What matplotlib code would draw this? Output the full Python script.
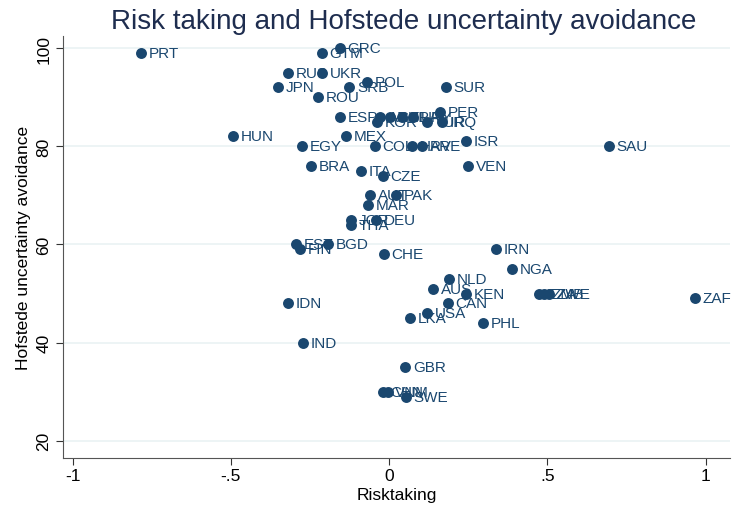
import matplotlib.pyplot as plt

plt.rcParams['font.family'] = ['Liberation Sans', 'DejaVu Sans']

countries = [
    "PRT", "GRC", "GTM", "RUS", "UKR", "JPN", "SRB", "POL", "ROU", "SUR",
    "ESP", "KOR", "ARG", "CHL", "FRA", "URY", "TUR", "PER", "IRQ",
    "MEX", "HUN", "EGY", "COL", "HRV", "ARE", "ISR", "SAU", "VEN", "BRA",
    "ITA", "CZE", "AUT", "PAK", "MAR", "JOR", "THA", "DEU", "EST", "FIN",
    "BGD", "CHE", "IRN", "NGA", "NLD", "AUS", "KEN", "CAN", "USA", "LKA",
    "PHL", "TZA", "ZMB", "ZWE", "ZAF", "IDN", "IND", "GBR", "CHN", "VNM", "SWE",
]
risktaking = [
    -0.784, -0.155, -0.212, -0.319, -0.212, -0.351, -0.126, -0.070, -0.224, 0.180,
    -0.155, -0.038, -0.028, 0.003, 0.041, 0.076, 0.120, 0.161, 0.167,
    -0.136, -0.493, -0.275, -0.045, 0.073, 0.105, 0.243, 0.695, 0.250, -0.246,
    -0.088, -0.019, -0.060, 0.022, -0.066, -0.120, -0.120, -0.040, -0.294, -0.281,
    -0.193, -0.016, 0.338, 0.389, 0.190, 0.139, 0.243, 0.186, 0.120, 0.066,
    0.297, 0.475, 0.490, 0.505, 0.967, -0.319, -0.272, 0.051, -0.020, -0.005, 0.054,
]
uai = [
    99, 100, 99, 95, 95, 92, 92, 93, 90, 92,
    86, 85, 86, 86, 86, 86, 85, 87, 85,
    82, 82, 80, 80, 80, 80, 81, 80, 76, 76,
    75, 74, 70, 70, 68, 65, 64, 65, 60, 59,
    60, 58, 59, 55, 53, 51, 50, 48, 46, 45,
    44, 50, 50, 50, 49, 48, 40, 35, 30, 30, 29,
]

navy = "#1a476f"

fig = plt.figure(figsize=(7.33, 5.10), dpi=100)
ax = fig.add_axes([0.086, 0.1, 0.91, 0.827])

ax.scatter(risktaking, uai, s=62, color=navy, zorder=3, linewidths=0)
for name, x, y in zip(countries, risktaking, uai):
    ax.annotate(name, (x, y), xytext=(5.5, 0), textcoords="offset points",
                va="center", ha="left", fontsize=11, color=navy, zorder=4)

ax.set_xlim(-1.03, 1.077)
ax.set_ylim(16.5, 102.4)
ax.set_xticks([-1, -0.5, 0, 0.5, 1])
ax.set_xticklabels(["-1", "-.5", "0", ".5", "1"])
ax.set_yticks([20, 40, 60, 80, 100])
ax.set_yticklabels(["20", "40", "60", "80", "100"], rotation=90, va="center")
ax.tick_params(labelsize=12.5, length=5, color="#333333", direction="out")
ax.tick_params(axis="x", pad=2)
ax.grid(axis="y", color="#eaf2f3", linewidth=1.2, zorder=0)
ax.set_axisbelow(True)

for side in ["top", "right"]:
    ax.spines[side].set_visible(False)
for side in ["left", "bottom"]:
    ax.spines[side].set_color("#555555")

ax.set_xlabel("Risktaking", fontsize=12.5, labelpad=3)
ax.set_ylabel("Hofstede uncertainty avoidance", fontsize=12.5)
ax.set_title("Risk taking and Hofstede uncertainty avoidance", fontsize=20,
             color="#1e2d4f", pad=6, x=0.51)

fig.savefig("out.png", dpi=100)
